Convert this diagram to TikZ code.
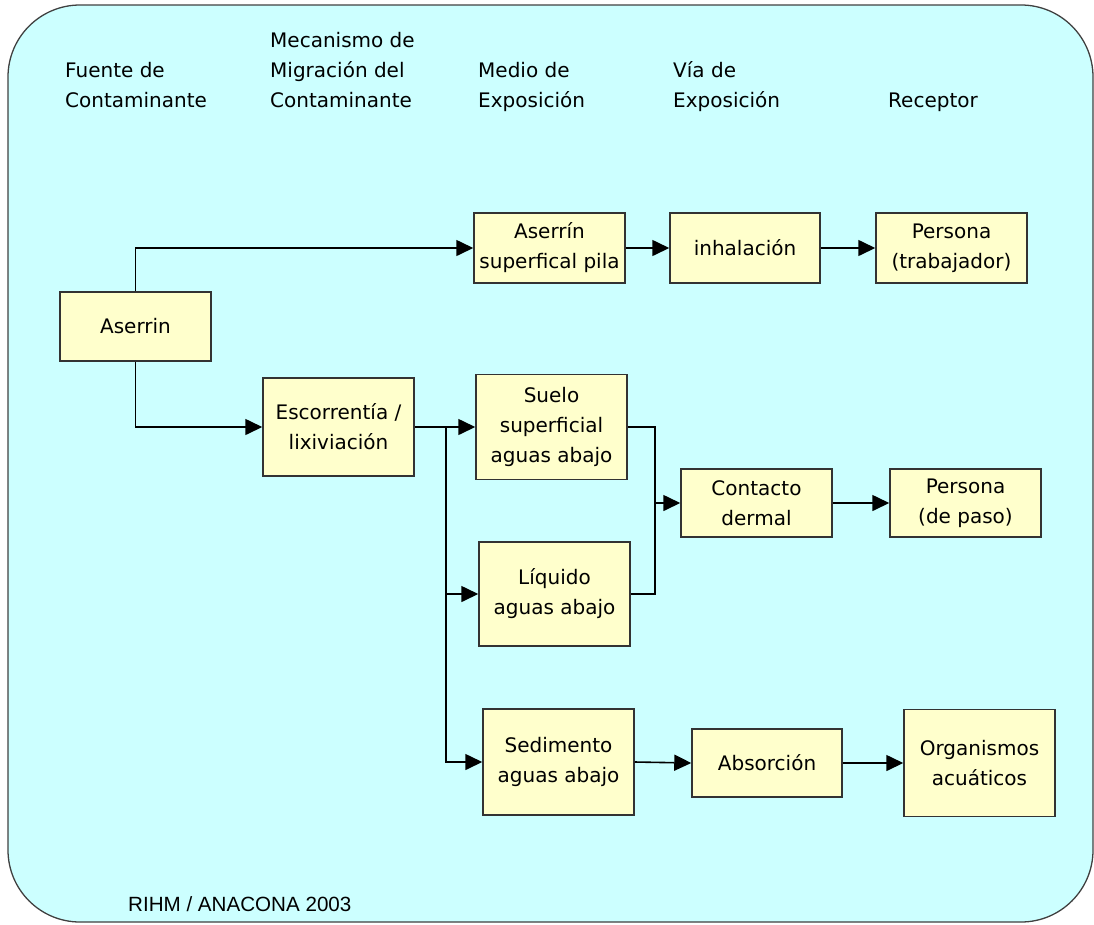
\documentclass[tikz,border=0pt]{standalone}
\usepackage{fontspec}
\setmainfont{DejaVu Sans}
\newfontfamily\footfont{Liberation Sans}
\usetikzlibrary{arrows.meta}
\definecolor{bgcyan}{HTML}{CCFFFF}
\definecolor{boxyellow}{HTML}{FFFFCC}
\definecolor{edgegray}{HTML}{333333}
\tikzset{
  box/.style={draw=edgegray, fill=boxyellow, line width=1.5pt, align=center, inner sep=0pt,
    font=\fontsize{20}{30}\selectfont, anchor=center},
  hdr/.style={align=left, inner sep=0pt, anchor=base west, font=\fontsize{20}{30}\selectfont},
  conn/.style={draw=black, line width=1.6pt},
  arr/.style={conn, -{Triangle[length=17pt,width=16pt]}}
}
\begin{document}
\begin{tikzpicture}[x=1pt,y=-1pt]
\useasboundingbox (0,0) rectangle (1094,924);
\draw[fill=bgcyan, draw=black!75, line width=1.3pt, rounded corners=72pt] (8,5) rectangle (1093,922);

% headers (anchor = baseline of last line)
\node[hdr] (h1) at (65,107) {Fuente de\\Contaminante};
\node[hdr] (h2) at (270,107) {Mecanismo de\\Migración del\\Contaminante};
\node[hdr] (h3) at (478,107) {Medio de\\Exposición};
\node[hdr] (h4) at (673,107) {Vía de\\Exposición};
\node[hdr] (h5) at (888,107) {Receptor};

% boxes
\node[box, minimum width=151pt, minimum height=69pt] (aserrin) at (135.5,326.5) {Aserrin};
\node[box, minimum width=151pt, minimum height=70pt] (pila) at (549.5,248) {Aserrín\\superfical pila};
\node[box, minimum width=150pt, minimum height=70pt] (inh) at (745,248) {inhalación};
\node[box, minimum width=151pt, minimum height=70pt] (per1) at (951.5,248) {Persona\\(trabajador)};
\node[box, minimum width=151pt, minimum height=98pt] (esc) at (338.5,427) {Escorrentía /\\lixiviación};
\node[box, minimum width=151pt, minimum height=105pt] (suelo) at (551.5,427) {Suelo\\superficial\\aguas abajo};
\node[box, minimum width=151pt, minimum height=104pt] (liq) at (554.5,594) {Líquido\\aguas abajo};
\node[box, minimum width=151pt, minimum height=68pt] (cont) at (756.5,503) {Contacto\\dermal};
\node[box, minimum width=151pt, minimum height=68pt] (per2) at (965.5,503) {Persona\\(de paso)};
\node[box, minimum width=151pt, minimum height=106pt] (sed) at (558.5,762) {Sedimento\\aguas abajo};
\node[box, minimum width=150pt, minimum height=68pt] (abs) at (767,763) {Absorción};
\node[box, minimum width=151pt, minimum height=107pt] (org) at (979.5,763) {Organismos\\acuáticos};

\node[inner sep=0pt, anchor=base west, font=\footfont\fontsize{20.6}{24}\selectfont] (foot) at (128,911) {RIHM / ANACONA 2003};

% connectors
\draw[arr] (aserrin.north) |- (pila.west);
\draw[arr] (aserrin.south) |- (esc.west);
\draw[arr] (pila.east) -- (inh.west);
\draw[arr] (inh.east) -- (per1.west);
\draw[arr] (esc.east) -- (suelo.west);
\coordinate (trunk) at (446,427);
\draw[arr] (trunk) |- (liq.west);
\draw[arr] (trunk) |- (sed.west);
\coordinate (merge) at (655,503);
\draw[conn] (suelo.east) -| (merge);
\draw[conn] (liq.east) -| (merge);
\draw[arr] (merge) -- (cont.west);
\draw[arr] (cont.east) -- (per2.west);
\draw[arr] (sed.east) -- (abs.west);
\draw[arr] (abs.east) -- (org.west);
\end{tikzpicture}
\end{document}
